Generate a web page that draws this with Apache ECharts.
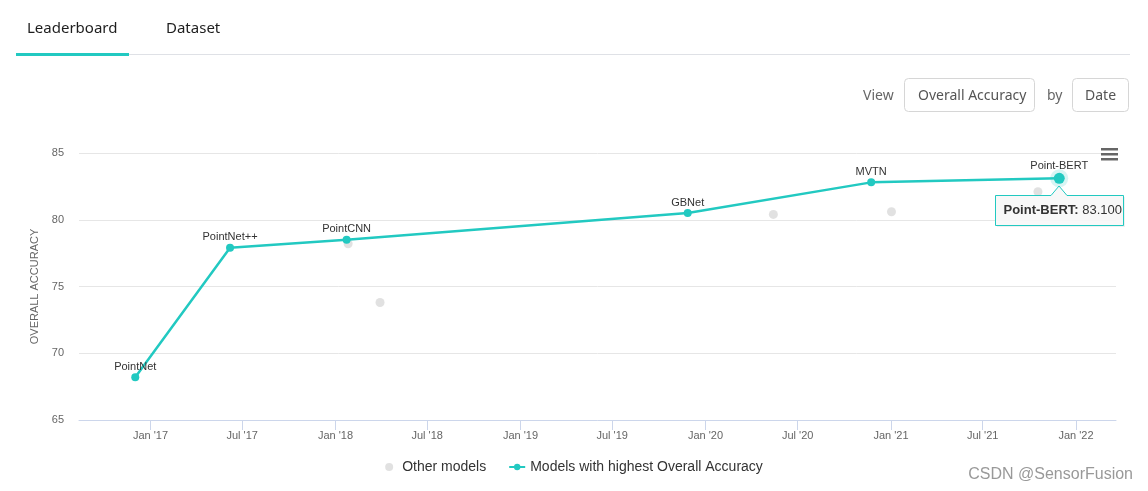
<!DOCTYPE html>
<html>
<head>
<meta charset="utf-8">
<script src="https://cdn.jsdelivr.net/npm/echarts@6/dist/echarts.min.js"></script>
<style>
html,body{margin:0;padding:0;background:#fff;}
#c{width:1148px;height:491px;}
</style>
</head>
<body>
<div id="c"></div>
<script>
// ---- data ----
const bestNames = ["PointNet", "PointNet++", "PointCNN", "GBNet", "MVTN", "Point-BERT"];
const bestDates = ["2016-12-02", "2017-06-07", "2018-01-23", "2019-11-27", "2020-11-23", "2021-11-29"];
const bestValues = [68.2, 77.9, 78.5, 80.5, 82.8, 83.1];

const otherDates = ["2018-01-26", "2018-03-30", "2020-05-14", "2021-01-02", "2021-10-18"];
const otherValues = [78.2, 73.8, 80.4, 80.6, 82.1];

const tickDates = ["2017-01-01", "2017-07-01", "2018-01-01", "2018-07-01", "2019-01-01", "2019-07-01",
                   "2020-01-01", "2020-07-01", "2021-01-01", "2021-07-01", "2022-01-01"];
const tickLabels = ["Jan '17", "Jul '17", "Jan '18", "Jul '18", "Jan '19", "Jul '19",
                    "Jan '20", "Jul '20", "Jan '21", "Jul '21", "Jan '22"];
const yTicks = [65, 70, 75, 80, 85];
const highlighted = 5;

// ---- chart ----
const TEAL = '#22c9c1';
const ts = s => new Date(s + 'T00:00:00Z').getTime();
const tickTs = tickDates.map(ts);
const labelOf = v => { const i = tickTs.indexOf(v); return i >= 0 ? tickLabels[i] : ''; };

const chart = echarts.init(document.getElementById('c'), null, {renderer: 'canvas'});
const font = 'Liberation Sans, Arial, sans-serif';

const option = {
  animation: false,
  textStyle: {fontFamily: font},
  grid: {left: 79, right: 32, top: 153, bottom: 71},
  xAxis: {
    type: 'value',
    min: ts('2016-08-13'),
    max: ts('2022-03-21'),
    axisLine: {lineStyle: {color: '#ccd6eb', width: 1}},
    axisTick: {show: true, length: 10, lineStyle: {color: '#ccd6eb'}, customValues: tickTs},
    axisLabel: {customValues: tickTs, formatter: v => labelOf(v), color: '#666', fontSize: 11, margin: 10, fontFamily: font},
    splitLine: {show: false}
  },
  yAxis: {
    type: 'value', min: yTicks[0], max: yTicks[yTicks.length - 1], interval: 5,
    name: 'OVERALL ACCURACY', nameLocation: 'middle', nameGap: 37, nameRotate: 90,
    nameTextStyle: {color: '#666', fontSize: 11, fontFamily: font},
    axisLine: {show: false}, axisTick: {show: false},
    axisLabel: {color: '#666', fontSize: 11, margin: 15, fontFamily: font},
    splitLine: {lineStyle: {color: '#e6e6e6'}}
  },
  legend: {
    bottom: 12, left: 'center', itemGap: 22,
    textStyle: {color: '#333', fontSize: 14, fontFamily: font},
    data: [
      {name: 'Other models', icon: 'circle', itemStyle: {color: '#d9d9d9'}},
      {name: 'Models with highest Overall Accuracy'}
    ],
    itemWidth: 16, itemHeight: 8, selectedMode: false
  },
  series: [
    {
      name: 'Other models', type: 'scatter', symbol: 'circle', symbolSize: 9,
      itemStyle: {color: '#d9d9d9'}, z: 2,
      data: otherDates.map((d, i) => [ts(d), otherValues[i]])
    },
    {
      name: 'halo', type: 'scatter', symbolSize: 18, silent: true, z: 3,
      itemStyle: {color: 'rgba(34,201,193,0.22)'},
      data: [[ts(bestDates[highlighted]), bestValues[highlighted]]]
    },
    {
      name: 'Models with highest Overall Accuracy', type: 'line', z: 4,
      symbol: 'circle', symbolSize: 8, showAllSymbol: true,
      lineStyle: {color: TEAL, width: 2.5},
      itemStyle: {color: TEAL},
      label: {show: true, position: 'top', distance: 1, color: '#333', fontSize: 11, fontFamily: font,
              formatter: p => bestNames[p.dataIndex]},
      data: bestDates.map((d, i) => ({
        value: [ts(d), bestValues[i]],
        symbolSize: i === highlighted ? 11 : 8
      }))
    }
  ]
};
chart.setOption(option);

// ---- decorations: tabs, view controls, menu, tooltip, watermark ----
const uiFont = '"Noto Sans", "Open Sans", sans-serif';
const g = [
  {type: 'text', left: 27, top: 21, style: {text: 'Leaderboard', font: '15px ' + uiFont, fill: '#1e1e1e'}},
  {type: 'text', left: 166, top: 21, style: {text: 'Dataset', font: '15px ' + uiFont, fill: '#1e1e1e'}},
  {type: 'rect', shape: {x: 129, y: 54, width: 1001, height: 1}, style: {fill: '#dfe1e6'}},
  {type: 'rect', shape: {x: 16, y: 53, width: 113, height: 3}, style: {fill: TEAL}},
  {type: 'text', left: 863, top: 89, style: {text: 'View', font: '14px ' + uiFont, fill: '#666'}},
  {type: 'rect', shape: {x: 904.5, y: 78.5, width: 130, height: 33, r: 4}, style: {fill: '#fff', stroke: '#d6d6d6', lineWidth: 1}},
  {type: 'text', left: 918, top: 89, style: {text: 'Overall Accuracy', font: '14px ' + uiFont, fill: '#555'}},
  {type: 'text', left: 1047, top: 89, style: {text: 'by', font: '14px ' + uiFont, fill: '#666'}},
  {type: 'rect', shape: {x: 1072.5, y: 78.5, width: 56, height: 33, r: 4}, style: {fill: '#fff', stroke: '#d6d6d6', lineWidth: 1}},
  {type: 'text', left: 1085, top: 89, style: {text: 'Date', font: '14px ' + uiFont, fill: '#555'}},
  {type: 'rect', shape: {x: 1101, y: 148, width: 17, height: 2.5}, style: {fill: '#666'}},
  {type: 'rect', shape: {x: 1101, y: 153, width: 17, height: 2.5}, style: {fill: '#666'}},
  {type: 'rect', shape: {x: 1101, y: 158, width: 17, height: 2.5}, style: {fill: '#666'}},
  {type: 'text', right: 15, top: 467, style: {text: 'CSDN @SensorFusion', font: '16px ' + font, fill: '#999'}}
];

// tooltip anchored to highlighted point
const p = chart.convertToPixel({seriesIndex: 2}, [ts(bestDates[highlighted]), bestValues[highlighted]]);
const bx0 = Math.round(p[0]) - 63.5, by0 = Math.round(p[1]) + 17.5, bw = 128, bh = 30;
const tipX = Math.round(p[0]), tipY = Math.round(p[1]) + 8;
const calloutPts = (dx, dy) => [[bx0, by0], [tipX - 8, by0], [tipX, tipY], [tipX + 8, by0], [bx0 + bw, by0], [bx0 + bw, by0 + bh], [bx0, by0 + bh]]
  .map(q => [q[0] + dx, q[1] + dy]);
g.push({
  type: 'polygon', z: 99, silent: true,
  shape: {points: calloutPts(1.5, 1.5)},
  style: {fill: 'rgba(0,0,0,0.06)'}
});
g.push({
  type: 'polygon', z: 100,
  shape: {points: calloutPts(0, 0)},
  style: {fill: 'rgba(248,248,248,0.95)', stroke: TEAL, lineWidth: 1}
});
g.push({
  type: 'text', z: 101, left: bx0 + 8, top: by0 + 8,
  style: {
    text: '{b|' + bestNames[highlighted] + ':} ' + bestValues[highlighted].toFixed(3),
    font: '13px ' + font, fill: '#333',
    rich: {b: {fontWeight: 'bold', fontSize: 13, fill: '#333', fontFamily: font}}
  }
});
chart.setOption({graphic: g});
</script>
</body>
</html>
